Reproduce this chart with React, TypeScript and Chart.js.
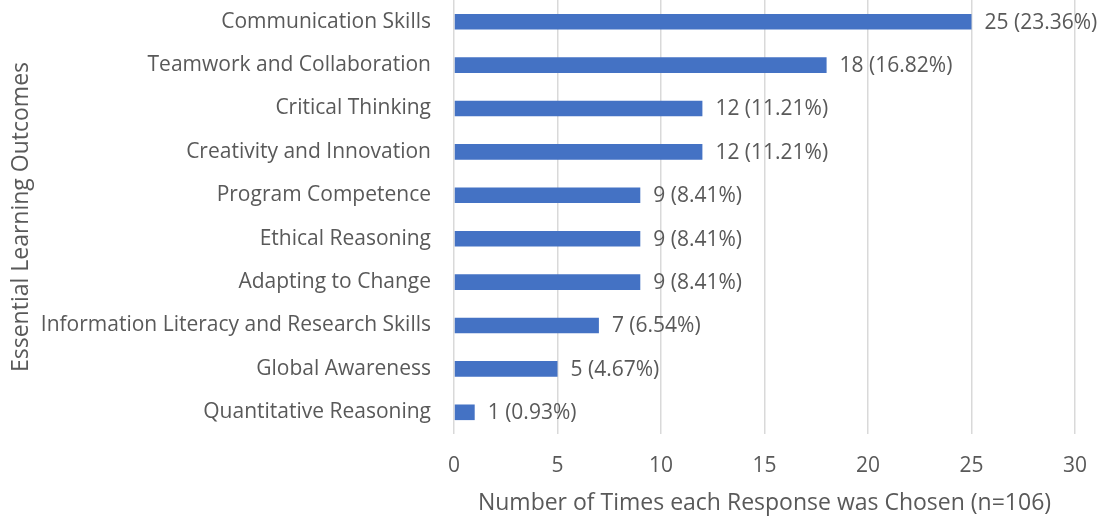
import React, { useEffect, useRef } from "react";
import { Chart, registerables } from "chart.js";

Chart.register(...registerables);

const categories = [
  "Communication Skills",
  "Teamwork and Collaboration",
  "Critical Thinking",
  "Creativity and Innovation",
  "Program Competence",
  "Ethical Reasoning",
  "Adapting to Change",
  "Information Literacy and Research Skills",
  "Global Awareness",
  "Quantitative Reasoning",
];
const counts = [25, 18, 12, 12, 9, 9, 9, 7, 5, 1];
const percentLabels = ["23.36%", "16.82%", "11.21%", "11.21%", "8.41%", "8.41%", "8.41%", "6.54%", "4.67%", "0.93%"];
const xTicks = [0, 5, 10, 15, 20, 25, 30];

const FONT = "Open Sans";
const TEXT = "#595959";
const TICK_SIZE = 21;
const TITLE_SIZE = 23;

const labelPlugin = {
  id: "barLabels",
  afterDatasetsDraw(chart: any) {
    const ctx = chart.ctx;
    const meta = chart.getDatasetMeta(0);
    ctx.save();
    ctx.font = `${TICK_SIZE}px ${FONT}`;
    ctx.fillStyle = TEXT;
    ctx.textAlign = "left";
    ctx.textBaseline = "middle";
    meta.data.forEach((bar: any, i: number) => {
      ctx.fillText(`${counts[i]} (${percentLabels[i]})`, bar.x + 13, bar.y + 1);
    });
    ctx.restore();
  },
};

export default function App() {
  const ref = useRef<HTMLCanvasElement>(null);
  useEffect(() => {
    document.body.style.margin = "0";
    const chart = new Chart(ref.current!, {
      type: "bar",
      data: {
        labels: categories,
        datasets: [
          {
            data: counts,
            backgroundColor: "#4472C4",
            barPercentage: 0.36,
            categoryPercentage: 1,
          },
        ],
      },
      options: {
        indexAxis: "y",
        animation: false,
        responsive: false,
        maintainAspectRatio: false,
        layout: { padding: { top: 0, right: 34, left: 0, bottom: 0 } },
        plugins: { legend: { display: false }, tooltip: { enabled: false } },
        scales: {
          x: {
            min: 0,
            max: 30,
            afterBuildTicks: (s: any) => {
              s.ticks = xTicks.map((v) => ({ value: v }));
            },
            afterFit: (s: any) => {
              s.height = 87;
              s.paddingLeft = 0;
              s.paddingRight = 0;
            },
            grid: { color: "#d9d9d9", lineWidth: 1.5, drawTicks: false },
            border: { display: false },
            ticks: { color: TEXT, font: { family: FONT, size: TICK_SIZE }, padding: 19 },
            title: {
              display: true,
              text: "Number of Times each Response was Chosen (n=106)",
              color: TEXT,
              font: { family: FONT, size: TITLE_SIZE },
              padding: { top: 0, bottom: 4 },
            },
          },
          y: {
            afterFit: (s: any) => {
              s.width = 454;
              s.paddingTop = 0;
              s.paddingBottom = 0;
            },
            grid: { display: false, drawTicks: false },
            border: { display: false },
            ticks: { color: TEXT, font: { family: FONT, size: TICK_SIZE }, padding: 23 },
            title: {
              display: true,
              text: "Essential Learning Outcomes",
              color: TEXT,
              font: { family: FONT, size: TITLE_SIZE },
              padding: { top: 8, bottom: 0 },
            },
          },
        },
      },
      plugins: [labelPlugin],
    });
    return () => chart.destroy();
  }, []);
  return <canvas ref={ref} width={1109} height={521} style={{ display: "block" }} />;
}
